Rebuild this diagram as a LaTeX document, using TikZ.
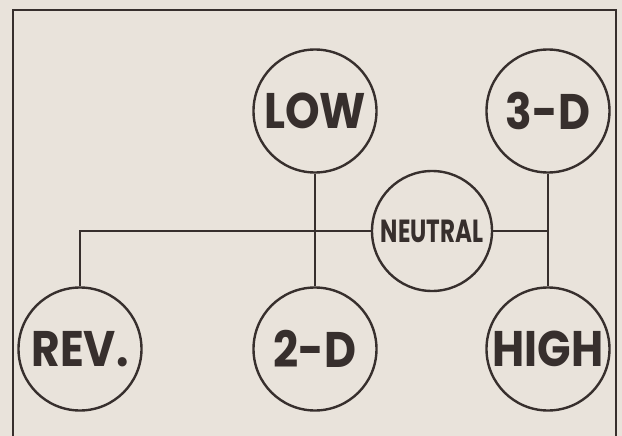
\documentclass[tikz,border=0pt]{standalone}
\usepackage{fontspec}
\newfontfamily\labelfont{Poppins}
\newcommand\narrowlabel[1]{\scalebox{0.88}[1]{#1}}
\definecolor{paper}{HTML}{E9E3DB}
\definecolor{ink}{HTML}{372F2D}
\tikzset{
  gear/.style={circle, draw=ink, line width=2.4pt, minimum size=123pt, inner sep=0pt,
    text=ink, font=\labelfont\bfseries\fontsize{50}{50}\selectfont},
  hub/.style={circle, draw=ink, line width=2.4pt, minimum size=120pt, inner sep=0pt,
    text=ink, font=\labelfont\bfseries\fontsize{32}{32}\selectfont},
  wire/.style={draw=ink, line width=2.2pt},
  frame/.style={draw=ink, line width=1.6pt}
}
\begin{document}
\begin{tikzpicture}[x=1pt,y=-1pt]
\useasboundingbox (0,0) rectangle (622,436);
\fill[paper] (0,0) rectangle (622,436);
\begin{scope}
\clip (0,0) rectangle (622,436);
\draw[frame] (13,10) rectangle (616,460);
\end{scope}
\node[gear] (low) at (315,111) {\narrowlabel{LOW}};
\node[gear] (d3) at (548,111) {\narrowlabel{3-D}};
\node[hub] (neutral) at (432,231) {\scalebox{0.72}[1]{NEUTRAL}};
\node[gear] (rev) at (80,349) {\narrowlabel{REV.}};
\node[gear] (d2) at (315,349) {\narrowlabel{2-D}};
\node[gear] (high) at (548,349) {\narrowlabel{HIGH}};
\coordinate (j) at (548,231);
\draw[wire] (low.south) -- (d2.north);
\draw[wire] (rev.north) |- (neutral.west);
\draw[wire] (neutral.east) -- (j);
\draw[wire] (d3.south) -- (high.north);
\end{tikzpicture}
\end{document}
